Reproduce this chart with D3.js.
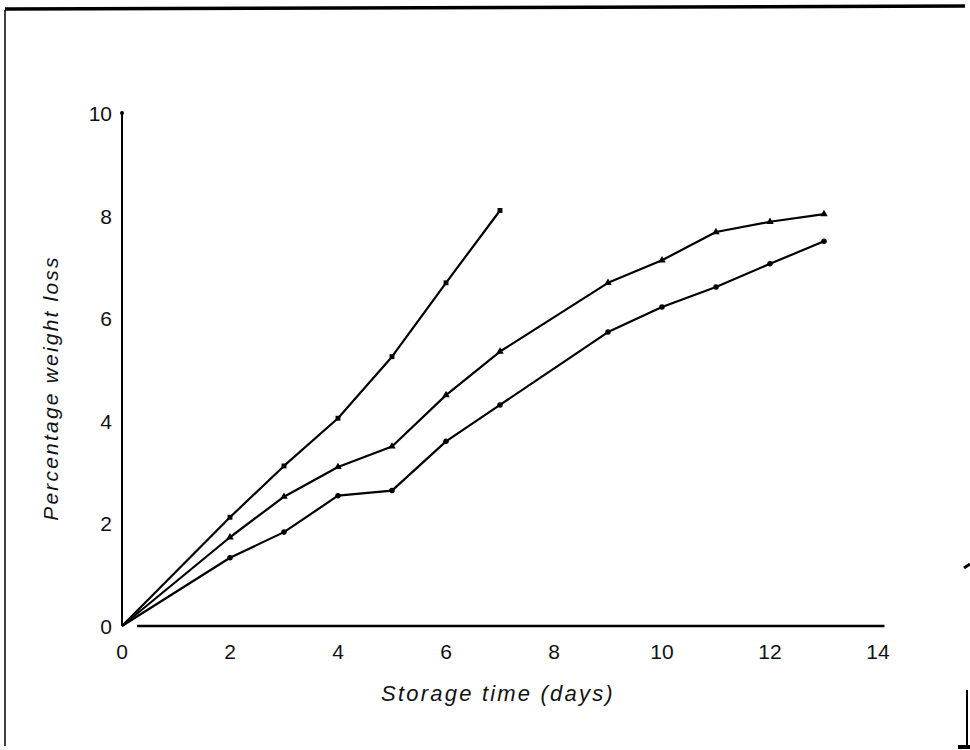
<!DOCTYPE html>
<html lang="en">
<meta charset="utf-8" />
<style>
  body { margin: 0; background: #fff; }
  text { font-family: "Liberation Sans", "DejaVu Sans", sans-serif; fill: #111; }
</style>
<svg width="970" height="750"></svg>
<script src="https://d3js.org/d3.v7.min.js"></script>
<script>
// values
var daysA = [0, 2, 3, 4, 5, 6, 7];
var lossA = [0, 2.12, 3.12, 4.05, 5.25, 6.69, 8.1];

var daysB = [0, 2, 3, 4, 5, 6, 7, 9, 10, 11, 12, 13];
var lossB = [0, 1.73, 2.52, 3.1, 3.5, 4.5, 5.35, 6.69, 7.13, 7.68, 7.88, 8.03];

var daysC = [0, 2, 3, 4, 5, 6, 7, 9, 10, 11, 12, 13];
var lossC = [0, 1.33, 1.83, 2.54, 2.64, 3.6, 4.31, 5.73, 6.22, 6.61, 7.06, 7.5];

var xTicks = [0, 2, 4, 6, 8, 10, 12, 14];
var yTicks = [0, 2, 4, 6, 8, 10];

var svg = d3.select("svg"),
    width = +svg.attr("width"),
    height = +svg.attr("height");

var x = d3.scaleLinear().domain([0, 14]).range([122, 878]);
var y = d3.scaleLinear().domain([0, 10]).range([626, 113]);

// scan frame (top and left edges of the page)
svg.append("line")
    .attr("x1", 5).attr("y1", 9).attr("x2", 965).attr("y2", 6)
    .attr("stroke", "#000").attr("stroke-width", 3.5);
svg.append("line")
    .attr("x1", 5).attr("y1", 10).attr("x2", 5).attr("y2", 746)
    .attr("stroke", "#000").attr("stroke-width", 1.5);
svg.append("line")
    .attr("x1", 967).attr("y1", 690).attr("x2", 967).attr("y2", 746)
    .attr("stroke", "#000").attr("stroke-width", 2);
svg.append("line")
    .attr("x1", 958).attr("y1", 747).attr("x2", 970).attr("y2", 747)
    .attr("stroke", "#000").attr("stroke-width", 4);
svg.append("line")
    .attr("x1", 964).attr("y1", 568).attr("x2", 970).attr("y2", 564)
    .attr("stroke", "#000").attr("stroke-width", 3);

// axes
svg.append("line")
    .attr("x1", x(0)).attr("y1", y(0)).attr("x2", x(0)).attr("y2", y(10))
    .attr("stroke", "#000").attr("stroke-width", 2);
svg.append("circle")
    .attr("cx", x(0)).attr("cy", y(10)).attr("r", 2);
svg.append("line")
    .attr("x1", x(0.28)).attr("y1", y(0)).attr("x2", x(14.12)).attr("y2", y(0))
    .attr("stroke", "#000").attr("stroke-width", 2.4);

svg.selectAll(".xtick")
    .data(xTicks)
  .enter().append("text")
    .attr("class", "xtick")
    .attr("x", function(d) { return x(d); })
    .attr("y", y(0) + 33)
    .attr("text-anchor", "middle")
    .attr("font-size", 21)
    .text(function(d) { return d; });

svg.selectAll(".ytick")
    .data(yTicks)
  .enter().append("text")
    .attr("class", "ytick")
    .attr("x", x(0) - 10)
    .attr("y", function(d) { return y(d) + 8; })
    .attr("text-anchor", "end")
    .attr("font-size", 21)
    .text(function(d) { return d; });

svg.append("text")
    .attr("x", 498)
    .attr("y", 701)
    .attr("text-anchor", "middle")
    .attr("font-size", 22)
    .attr("font-style", "italic")
    .attr("letter-spacing", 2.2)
    .text("Storage time (days)");

svg.append("text")
    .attr("transform", "translate(58,388) rotate(-90)")
    .attr("text-anchor", "middle")
    .attr("font-size", 21)
    .attr("font-style", "italic")
    .attr("letter-spacing", 2.2)
    .text("Percentage weight loss");

// series
var line = d3.line()
    .x(function(d) { return x(d[0]); })
    .y(function(d) { return y(d[1]); });

var series = [
  { pts: d3.zip(daysA, lossA), mark: d3.symbolSquare },
  { pts: d3.zip(daysB, lossB), mark: d3.symbolTriangle },
  { pts: d3.zip(daysC, lossC), mark: d3.symbolCircle }
];

series.forEach(function(s) {
  svg.append("path")
      .datum(s.pts)
      .attr("fill", "none")
      .attr("stroke", "#000")
      .attr("stroke-width", 2.2)
      .attr("stroke-linejoin", "round")
      .attr("d", line);

  svg.selectAll(null)
      .data(s.pts.slice(1))
    .enter().append("path")
      .attr("transform", function(d) { return "translate(" + x(d[0]) + "," + y(d[1]) + ")"; })
      .attr("d", d3.symbol().type(s.mark).size(24))
      .attr("fill", "#000");
});
</script>
</html>
